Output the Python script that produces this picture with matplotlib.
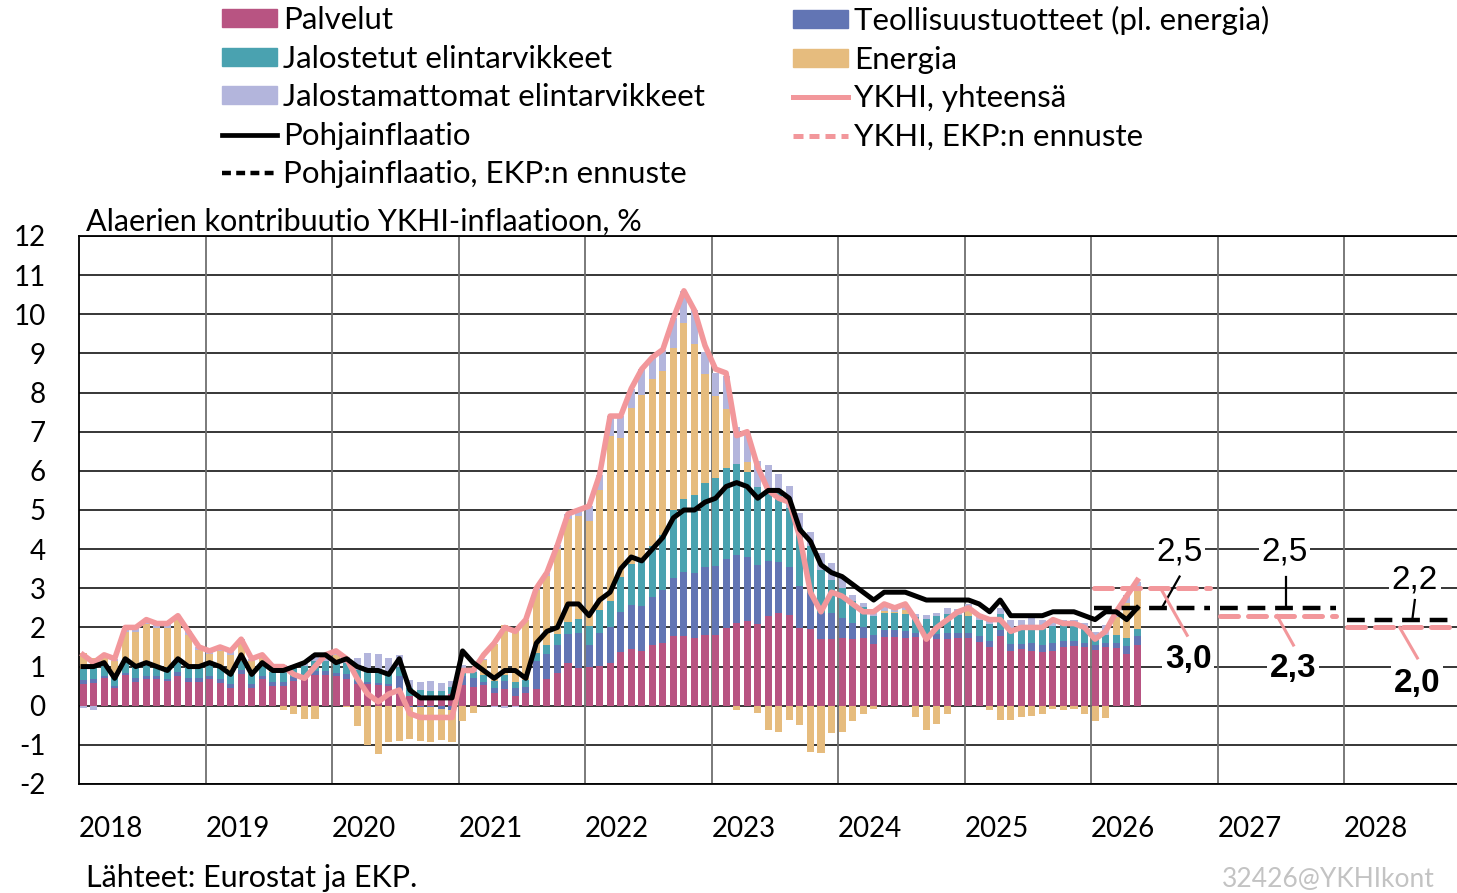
import numpy as np
import matplotlib
matplotlib.use("Agg")
import matplotlib.pyplot as plt
from matplotlib.patches import Patch
from matplotlib.lines import Line2D

plt.rcParams['font.family'] = ['Lato', 'DejaVu Sans']
plt.rcParams['axes.unicode_minus'] = False

# monthly contributions to HICP inflation, %-points, Jan 2018 - May 2026
services = [
    0.55, 0.57, 0.70, 0.45, 0.78, 0.60, 0.67, 0.67, 0.62, 0.75, 0.60, 0.60,
    0.67, 0.59, 0.45, 0.80, 0.45, 0.67, 0.50, 0.50, 0.64, 0.67, 0.78, 0.78,
    0.75, 0.68, 0.55, 0.55, 0.53, 0.50, 0.30, 0.25, 0.20, 0.17, 0.17, 0.30,
    0.53, 0.49, 0.53, 0.32, 0.42, 0.26, 0.33, 0.42, 0.67, 0.84, 1.08, 0.97,
    0.98, 1.02, 1.10, 1.36, 1.45, 1.40, 1.55, 1.60, 1.77, 1.77, 1.74, 1.81,
    1.81, 1.98, 2.11, 2.17, 2.09, 2.28, 2.37, 2.32, 1.98, 1.96, 1.70, 1.70,
    1.72, 1.70, 1.72, 1.58, 1.75, 1.75, 1.72, 1.75, 1.70, 1.70, 1.70, 1.72,
    1.73, 1.62, 1.50, 1.77, 1.41, 1.45, 1.41, 1.36, 1.41, 1.50, 1.53, 1.50,
    1.42, 1.51, 1.47, 1.32, 1.55]
industrial = [
    0.10, 0.10, 0.05, 0.06, 0.06, 0.10, 0.10, 0.08, 0.07, 0.10, 0.10, 0.10,
    0.10, 0.10, 0.10, 0.10, 0.10, 0.10, 0.10, 0.10, 0.10, 0.10, 0.10, 0.10,
    0.08, 0.13, 0.08, 0.05, 0.05, 0.05, 0.45, -0.03, -0.03, -0.03, -0.08, -0.12,
    0.23, 0.21, 0.08, 0.13, 0.22, 0.20, 0.16, 0.72, 0.65, 0.70, 0.75, 0.90,
    0.57, 0.84, 0.92, 1.03, 1.13, 1.16, 1.22, 1.35, 1.49, 1.65, 1.65, 1.73,
    1.77, 1.77, 1.75, 1.62, 1.51, 1.42, 1.31, 1.22, 1.08, 0.92, 0.67, 0.67,
    0.52, 0.42, 0.29, 0.23, 0.18, 0.18, 0.18, 0.10, 0.10, 0.13, 0.16, 0.13,
    0.13, 0.16, 0.16, 0.16, 0.16, 0.13, 0.20, 0.20, 0.20, 0.16, 0.13, 0.10,
    0.13, 0.10, 0.12, 0.20, 0.22]
processed = [
    0.30, 0.30, 0.30, 0.30, 0.30, 0.30, 0.32, 0.30, 0.30, 0.30, 0.30, 0.28,
    0.28, 0.28, 0.25, 0.25, 0.25, 0.25, 0.25, 0.25, 0.25, 0.25, 0.25, 0.25,
    0.25, 0.28, 0.28, 0.30, 0.30, 0.28, 0.25, 0.20, 0.20, 0.20, 0.20, 0.18,
    0.20, 0.17, 0.17, 0.17, 0.15, 0.15, 0.17, 0.20, 0.22, 0.28, 0.30, 0.35,
    0.48, 0.59, 0.66, 0.90, 1.05, 1.15, 1.30, 1.40, 1.73, 1.85, 2.00, 2.15,
    2.23, 2.32, 2.32, 2.17, 1.98, 1.83, 1.79, 1.51, 1.48, 1.19, 1.10, 0.85,
    0.78, 0.55, 0.50, 0.48, 0.45, 0.45, 0.45, 0.42, 0.42, 0.45, 0.48, 0.46,
    0.42, 0.42, 0.42, 0.42, 0.42, 0.42, 0.42, 0.42, 0.42, 0.42, 0.42, 0.40,
    0.18, 0.20, 0.22, 0.21, 0.20]
energy = [
    0.40, 0.25, 0.20, 0.34, 0.74, 0.88, 0.99, 0.93, 0.99, 1.07, 0.80, 0.44,
    0.27, 0.43, 0.50, 0.45, 0.35, 0.20, 0.03, -0.10, -0.21, -0.35, -0.35, 0.02,
    0.22, -0.04, -0.51, -1.00, -1.23, -0.93, -0.90, -0.82, -0.87, -0.89, -0.79, -0.81,
    -0.38, -0.18, 0.40, 0.95, 1.26, 1.33, 1.54, 1.61, 1.78, 2.18, 2.65, 2.63,
    2.69, 3.07, 4.22, 3.56, 3.97, 4.24, 4.28, 4.20, 4.16, 4.51, 3.86, 2.79,
    2.10, 1.50, -0.10, 0.26, -0.19, -0.61, -0.66, -0.36, -0.49, -1.19, -1.21, -0.70,
    -0.66, -0.40, -0.20, -0.09, 0.03, 0.02, 0.10, -0.30, -0.63, -0.47, -0.20, 0.01,
    0.17, 0.00, -0.10, -0.36, -0.37, -0.29, -0.27, -0.20, -0.08, -0.12, -0.08, -0.20,
    -0.40, -0.31, 0.45, 0.90, 1.00]
unprocessed = [
    -0.05, -0.12, 0.05, 0.05, 0.12, 0.12, 0.12, 0.12, 0.12, 0.08, 0.10, 0.08,
    0.08, 0.10, 0.10, 0.10, 0.05, 0.08, 0.12, 0.20, 0.05, 0.08, 0.20, 0.15,
    0.10, 0.15, 0.30, 0.45, 0.45, 0.40, 0.30, 0.20, 0.20, 0.25, 0.20, 0.15,
    0.08, 0.05, 0.02, -0.04, -0.05, -0.04, 0.00, 0.05, 0.08, 0.10, 0.12, 0.15,
    0.38, 0.38, 0.50, 0.55, 0.50, 0.65, 0.55, 0.55, 0.75, 0.82, 0.85, 0.56,
    0.60, 0.85, 0.95, 0.75, 0.68, 0.62, 0.45, 0.57, 0.38, 0.38, 0.43, 0.43,
    0.30, 0.15, 0.12, 0.12, 0.15, 0.10, 0.08, 0.08, 0.10, 0.10, 0.15, 0.15,
    0.15, 0.15, 0.18, 0.15, 0.20, 0.20, 0.22, 0.20, 0.15, 0.12, 0.12, 0.12,
    0.15, 0.25, 0.15, 0.20, 0.20]
hicp = [
    1.3, 1.1, 1.3, 1.2, 2.0, 2.0, 2.2, 2.1, 2.1, 2.3, 1.9, 1.5,
    1.4, 1.5, 1.4, 1.7, 1.2, 1.3, 1.0, 1.0, 0.8, 0.7, 1.0, 1.3,
    1.4, 1.2, 0.7, 0.3, 0.1, 0.3, 0.4, -0.2, -0.3, -0.3, -0.3, -0.3,
    0.9, 0.9, 1.3, 1.6, 2.0, 1.9, 2.2, 3.0, 3.4, 4.1, 4.9, 5.0,
    5.1, 5.9, 7.4, 7.4, 8.1, 8.6, 8.9, 9.1, 9.9, 10.6, 10.1, 9.2,
    8.6, 8.5, 6.9, 7.0, 6.1, 5.5, 5.3, 5.2, 4.3, 2.9, 2.4, 2.9,
    2.8, 2.6, 2.4, 2.4, 2.6, 2.5, 2.6, 2.2, 1.7, 2.0, 2.2, 2.4,
    2.5, 2.3, 2.2, 2.2, 1.9, 2.0, 2.0, 2.0, 2.2, 2.1, 2.1, 2.0,
    1.7, 1.9, 2.4, 2.8, 3.2]
core = [
    1.0, 1.0, 1.1, 0.7, 1.2, 1.0, 1.1, 1.0, 0.9, 1.2, 1.0, 1.0,
    1.1, 1.0, 0.8, 1.3, 0.8, 1.1, 0.9, 0.9, 1.0, 1.1, 1.3, 1.3,
    1.1, 1.2, 1.0, 0.9, 0.9, 0.8, 1.2, 0.4, 0.2, 0.2, 0.2, 0.2,
    1.4, 1.1, 0.9, 0.7, 0.9, 0.9, 0.7, 1.6, 1.9, 2.0, 2.6, 2.6,
    2.3, 2.7, 2.9, 3.5, 3.8, 3.7, 4.0, 4.3, 4.8, 5.0, 5.0, 5.2,
    5.3, 5.6, 5.7, 5.6, 5.3, 5.5, 5.5, 5.3, 4.5, 4.2, 3.6, 3.4,
    3.3, 3.1, 2.9, 2.7, 2.9, 2.9, 2.9, 2.8, 2.7, 2.7, 2.7, 2.7,
    2.7, 2.6, 2.4, 2.7, 2.3, 2.3, 2.3, 2.3, 2.4, 2.4, 2.4, 2.3,
    2.2, 2.4, 2.4, 2.2, 2.5]

# ECB projections (annual)
fc_years = [2026, 2027, 2028]
fc_hicp = [3.0, 2.3, 2.0]
fc_core = [2.5, 2.5, 2.2]
years = list(range(2018, 2029))

c_serv = '#B85482'
c_ind = '#6275B4'
c_proc = '#4AA2B0'
c_energy = '#E6BC7E'
c_unproc = '#B3B5DC'
c_hicp = '#F2979B'

fig = plt.figure(figsize=(14.57, 8.93), dpi=100)
ax = fig.add_axes([79/1457, 1-784/893, (1457-79)/1457, (784-236)/893])

x = 2018 + np.arange(len(hicp))/12 + 0.032

pos = np.zeros(len(x))
neg = np.zeros(len(x))
for vals, col in [(services, c_serv), (industrial, c_ind), (processed, c_proc),
                  (energy, c_energy), (unprocessed, c_unproc)]:
    v = np.array(vals)
    bottom = np.where(v >= 0, pos, neg)
    ax.bar(x, v, width=0.056, bottom=bottom, color=col, linewidth=0, zorder=2)
    pos += np.clip(v, 0, None)
    neg += np.clip(v, None, 0)

ax.plot(x, hicp, color=c_hicp, lw=4.0, zorder=4, solid_joinstyle='round')
ax.plot(x, core, color='black', lw=3.6, zorder=5, solid_joinstyle='round')

# forecast segments
for yr, h, c in zip(fc_years, fc_hicp, fc_core):
    x0, x1 = yr + 0.02, yr + 0.94
    ax.plot([x0, x1], [h, h], color=c_hicp, lw=3.6, dashes=(3.6, 2.0), zorder=4,
            dash_capstyle='round')
    ax.plot([x0, x1], [c, c], color='black', lw=3.2, dashes=(4, 2.2), zorder=5)

# value labels for the projections
lab_core = [(2026.70, 3.92, 2026.70, 3.30, 2026.56, 2.5),
            (2027.53, 3.92, 2027.54, 3.30, 2027.54, 2.5),
            (2028.56, 3.21, 2028.56, 2.70, 2028.54, 2.2)]
lab_hicp = [(2026.77, 1.17, 2026.76, 1.80, 2026.55, 3.0),
            (2027.60, 0.96, 2027.60, 1.55, 2027.47, 2.3),
            (2028.58, 0.58, 2028.58, 1.22, 2028.44, 2.0)]
for (tx, ty, lx0, ly0, lx1, ly1), v in zip(lab_core, fc_core):
    ax.plot([lx0, lx1], [ly0, ly1], color='black', lw=1.6, zorder=6)
    ax.text(tx, ty, f'{v:.1f}'.replace('.', ','), ha='center', va='center',
            fontsize=24, family='Liberation Sans', zorder=7,
            bbox=dict(facecolor='white', edgecolor='none', pad=2))
for (tx, ty, lx0, ly0, lx1, ly1), v in zip(lab_hicp, fc_hicp):
    ax.plot([lx0, lx1], [ly0, ly1], color=c_hicp, lw=2.2, zorder=6)
    ax.text(tx, ty, f'{v:.1f}'.replace('.', ','), ha='center', va='center',
            fontsize=24, fontweight='bold', family='Liberation Sans', zorder=7,
            bbox=dict(facecolor='white', edgecolor='none', pad=2))

ax.set_xlim(2018, 2018 + (1457-79)/126.5)
ax.set_ylim(-2, 12)
ax.set_yticks(range(-2, 13))
ax.yaxis.grid(True, color='black', lw=1.1, zorder=0)
ax.set_axisbelow(True)
for yr in years[1:]:
    ax.axvline(yr, color='#6f6f6f', lw=1.3, zorder=1)
ax.set_xticks(years)
ax.set_xticklabels([str(y) for y in years], ha='left')
ax.tick_params(axis='both', length=0, labelsize=20)
ax.tick_params(axis='y', pad=24)
ax.tick_params(axis='x', pad=23)
for s in ['left', 'top', 'bottom']:
    ax.spines[s].set_linewidth(1.3)
ax.spines['right'].set_visible(False)

fig.text(86/1457, 1-231/893, 'Alaerien kontribuutio YKHI-inflaatioon, %',
         fontsize=22, va='baseline')
fig.text(86/1457, 1-887/893, 'Lähteet: Eurostat ja EKP.', fontsize=22, va='baseline')
fig.text(1435/1457, 1-887/893, '32426@YKHIkont', fontsize=19, va='baseline',
         ha='right', color='#c3c3c3')

leg_kw = dict(loc='upper left', frameon=False, fontsize=22.5, borderpad=0,
              borderaxespad=0, handlelength=1.76, handleheight=0.51,
              handletextpad=0.2, labelspacing=0.34)
h1 = [Patch(color=c_serv), Patch(color=c_proc), Patch(color=c_unproc),
      Line2D([], [], color='black', lw=3.4),
      Line2D([], [], color='black', lw=3.2, dashes=(2, 1.2))]
l1 = ['Palvelut', 'Jalostetut elintarvikkeet', 'Jalostamattomat elintarvikkeet',
      'Pohjainflaatio', 'Pohjainflaatio, EKP:n ennuste']
h2 = [Patch(color=c_ind), Patch(color=c_energy),
      Line2D([], [], color=c_hicp, lw=3.6),
      Line2D([], [], color=c_hicp, lw=3.6, dashes=(2, 1.2))]
l2 = ['Teollisuustuotteet (pl. energia)', 'Energia', 'YKHI, yhteensä',
      'YKHI, EKP:n ennuste']
fig.legend(h1, l1, bbox_to_anchor=(222/1457, 1-6/893), **leg_kw)
fig.legend(h2, l2, bbox_to_anchor=(793/1457, 1-6/893), **leg_kw)

fig.savefig('out.png', dpi=100)
